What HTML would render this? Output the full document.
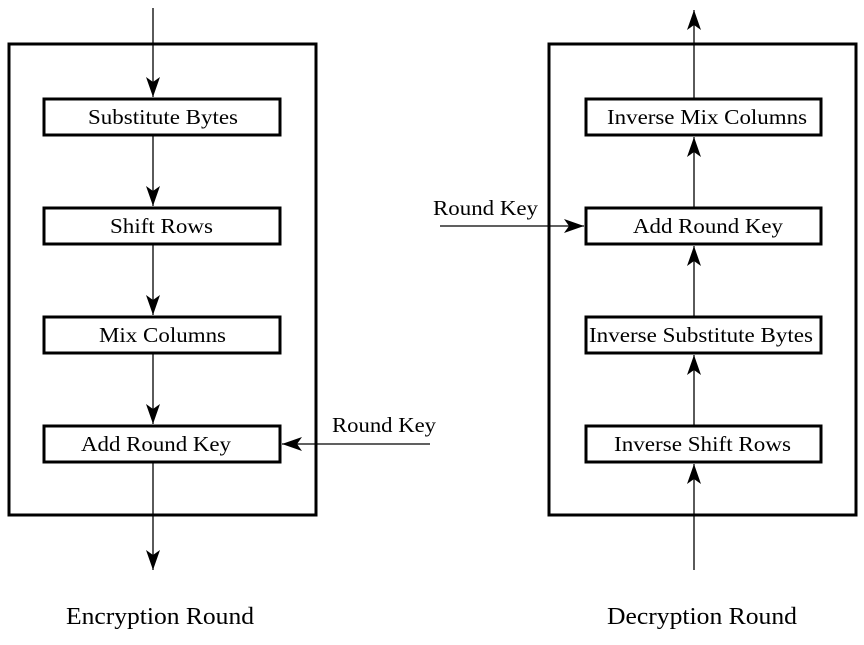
<!DOCTYPE html>
<html><head><style>body{margin:0;background:#fff}</style></head><body>
<svg width="864" height="640" xmlns="http://www.w3.org/2000/svg" font-family="Liberation Serif, serif">
<defs><marker id="a" markerWidth="20" markerHeight="16" refX="20" refY="7" orient="auto" markerUnits="userSpaceOnUse"><path d="M0,0 L20,7 L0,14 L5,7 Z" fill="#000"/></marker></defs>
<g fill="none" stroke="#000" stroke-width="3">
<rect x="9" y="44" width="307" height="471"/>
<rect x="549" y="44" width="307" height="471"/>
<rect x="44" y="99" width="236" height="36"/>
<rect x="44" y="208" width="236" height="36"/>
<rect x="44" y="317" width="236" height="36"/>
<rect x="44" y="426" width="236" height="36"/>
<rect x="586" y="99" width="235" height="36"/>
<rect x="586" y="208" width="235" height="36"/>
<rect x="586" y="317" width="235" height="36"/>
<rect x="586" y="426" width="235" height="36"/>
</g>
<g stroke="#000" stroke-width="1.3" marker-end="url(#a)">
<line x1="153" y1="8" x2="153" y2="97"/>
<line x1="153" y1="136" x2="153" y2="206"/>
<line x1="153" y1="245" x2="153" y2="315"/>
<line x1="153" y1="354" x2="153" y2="424"/>
<line x1="153" y1="463" x2="153" y2="570"/>
<line x1="430" y1="444" x2="282" y2="444"/>
<line x1="694" y1="570" x2="694" y2="464"/>
<line x1="694" y1="425" x2="694" y2="355"/>
<line x1="694" y1="316" x2="694" y2="246"/>
<line x1="694" y1="207" x2="694" y2="137"/>
<line x1="694" y1="98" x2="694" y2="10"/>
<line x1="440" y1="226" x2="584" y2="226"/>
</g>
<g font-size="21" fill="#000">
<text x="88" y="124" textLength="150" lengthAdjust="spacingAndGlyphs">Substitute Bytes</text>
<text x="110" y="233" textLength="103" lengthAdjust="spacingAndGlyphs">Shift Rows</text>
<text x="99" y="342" textLength="127" lengthAdjust="spacingAndGlyphs">Mix Columns</text>
<text x="81" y="451" textLength="150" lengthAdjust="spacingAndGlyphs">Add Round Key</text>
<text x="607" y="124" textLength="200" lengthAdjust="spacingAndGlyphs">Inverse Mix Columns</text>
<text x="633" y="233" textLength="150" lengthAdjust="spacingAndGlyphs">Add Round Key</text>
<text x="589" y="342" textLength="224" lengthAdjust="spacingAndGlyphs">Inverse Substitute Bytes</text>
<text x="614" y="451" textLength="177" lengthAdjust="spacingAndGlyphs">Inverse Shift Rows</text>
<text x="332" y="432" textLength="104" lengthAdjust="spacingAndGlyphs">Round Key</text>
<text x="433" y="215" textLength="105" lengthAdjust="spacingAndGlyphs">Round Key</text>
</g>
<g font-size="24">
<text x="66" y="624" textLength="188" lengthAdjust="spacingAndGlyphs">Encryption Round</text>
<text x="607" y="624" textLength="190" lengthAdjust="spacingAndGlyphs">Decryption Round</text>
</g>
</svg>
</body></html>
